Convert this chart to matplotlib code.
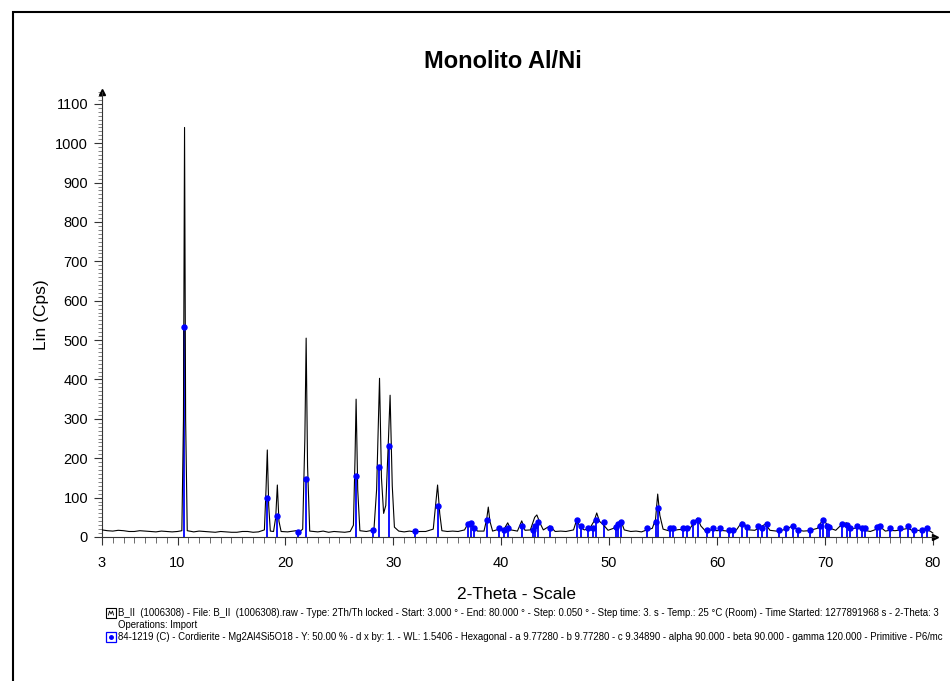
import matplotlib
matplotlib.use("Agg")
import matplotlib.pyplot as plt
from matplotlib.lines import Line2D
from matplotlib.patches import Rectangle
from matplotlib.ticker import MultipleLocator, FixedLocator

plt.rcParams['font.family'] = ['Liberation Sans', 'DejaVu Sans']

# ---- data ----
# measured pattern (2-theta, counts)
pattern_x = [3.0, 3.5, 4.0, 4.5, 5.0, 5.5, 6.0, 6.5, 7.0, 7.5, 8.0, 8.5, 9.0, 9.5, 10.0, 10.4,
             10.55, 10.65, 10.75, 10.9, 11.5, 12.0, 12.5, 13.0, 13.5, 14.0, 14.5, 15.0, 15.5,
             16.0, 16.5, 17.0, 17.5, 18.05, 18.2, 18.32, 18.45, 18.6,
             18.9, 19.1, 19.25, 19.4, 19.6, 20.2, 20.7, 21.0, 21.3, 21.6, 21.8, 21.92, 22.05,
             22.25, 22.6, 23.0, 23.5, 24.0, 24.5, 25.0, 25.5, 26.0, 26.3, 26.45, 26.55, 26.7,
             26.9, 27.5, 28.2,
             28.45, 28.72, 28.9, 29.1, 29.3, 29.55, 29.7, 29.9, 30.1, 30.5, 31.0, 31.5, 32.0,
             32.5, 33.0, 33.7, 33.95, 34.1, 34.3, 34.5, 35.0, 35.5, 36.0, 36.6, 36.9, 37.2, 37.5,
             37.8, 38.4, 38.65, 38.8, 38.95, 39.2, 39.8, 40.2, 40.6, 40.9, 41.5, 41.9,
             42.2, 42.7, 43.1, 43.3, 43.6, 43.9, 44.5, 45.0, 45.5, 46.0, 46.7, 47.0, 47.3,
             47.7, 48.2, 48.6, 48.85, 49.1, 49.5, 49.9, 50.4, 50.9, 51.1, 51.4, 52.0, 52.5,
             53.0, 53.5, 54.0, 54.3, 54.5, 54.7, 55.0, 55.5, 56.0, 56.5, 57.0, 57.5, 57.9,
             58.2, 58.5, 58.9, 59.5, 60.0, 60.3, 61.0, 61.4, 61.8, 62.3, 62.6, 63.0, 63.5, 64.0,
             64.5, 64.9, 65.5, 66.0, 66.4, 67.0, 67.5, 68.0, 68.5, 69.3, 69.6, 69.85, 70.1, 70.5,
             71.0, 71.6, 72.0, 72.4, 73.0, 73.5, 74.2, 74.8, 75.2, 75.6, 76.0, 76.5, 77.0,
             77.7, 78.2, 78.6, 79.0, 79.5, 79.8, 80.0]
pattern_y = [18, 16, 15, 17, 16, 14, 14, 16, 15, 14, 13, 15, 14, 13, 14, 16,
             300, 1040, 300, 16, 13, 15, 14, 13, 12, 14, 13, 12, 12,
             14, 14, 12, 13, 18, 120, 221, 80, 15,
             14, 50, 132, 40, 14, 13, 15, 16, 13, 20, 250, 505, 180,
             15, 14, 13, 15, 12, 14, 13, 12, 14, 30, 200, 350, 120,
             16, 14, 18,
             120, 403, 150, 60, 80, 250, 360, 130, 25, 15, 13, 15, 13,
             14, 14, 20, 90, 132, 60, 16, 14, 15, 14, 18, 33, 30, 24,
             15, 15, 45, 76, 40, 15, 20, 17, 36, 18, 15, 41,
             17, 18, 50, 56, 35, 18, 28, 14, 15, 14, 18, 44, 25,
             18, 22, 40, 61, 40, 30, 17, 22, 35, 41, 18, 14, 15,
             13, 18, 22, 45, 109, 55, 20, 16, 17, 19, 18, 22, 38,
             48, 28, 16, 18, 16, 17, 15, 17, 18, 38, 30, 18, 17, 25,
             33, 17, 15, 17, 20, 28, 18, 15, 16, 22, 35, 46, 35, 22,
             17, 33, 36, 20, 24, 18, 14, 20, 24, 15, 17, 16, 18,
             22, 15, 17, 16, 18, 14, 10]

# reference card 84-1219 Cordierite sticks (2-theta, counts)
ref_x = [10.6, 18.3, 19.25, 21.2, 21.9, 26.5, 28.1, 28.7, 29.6, 32.0, 34.1, 36.9, 37.2,
         37.5, 38.7, 39.8, 40.3, 40.6, 41.9, 42.9, 43.1, 43.4, 44.5, 47.0, 47.4, 48.0,
         48.5, 48.8, 49.5, 50.6, 50.8, 51.1, 53.5, 54.3, 54.5, 55.6, 55.9, 56.8, 57.2,
         57.8, 58.2, 59.1, 59.6, 60.3, 61.1, 61.5, 62.3, 62.8, 63.8, 64.2, 64.6, 65.7,
         66.4, 67.0, 67.5, 68.6, 69.5, 69.8, 70.2, 70.4, 71.6, 72.0, 72.3, 73.0, 73.4,
         73.7, 74.8, 75.1, 76.0, 77.0, 77.7, 78.3, 79.0, 79.5]
ref_y = [533, 99, 53, 13, 147, 155, 18, 178, 232, 15, 79, 33, 36,
         23, 43, 23, 18, 23, 28, 18, 28, 38, 23, 43, 28, 23,
         23, 43, 38, 25, 33, 38, 23, 38, 74, 23, 23, 23, 23,
         38, 43, 18, 23, 23, 18, 18, 33, 25, 28, 23, 33, 18,
         23, 28, 18, 18, 28, 43, 28, 25, 33, 30, 23, 28, 23,
         23, 25, 28, 23, 23, 28, 18, 18, 23]

x_tick_values = [3, 10, 20, 30, 40, 50, 60, 70, 80]
y_tick_values = [0, 100, 200, 300, 400, 500, 600, 700, 800, 900, 1000, 1100]

title_text = "Monolito Al/Ni"
x_label = "2-Theta - Scale"
y_label = "Lin (Cps)"
legend_line1 = ("B_II  (1006308) - File: B_II  (1006308).raw - Type: 2Th/Th locked - Start: 3.000 \u00b0 - "
                "End: 80.000 \u00b0 - Step: 0.050 \u00b0 - Step time: 3. s - Temp.: 25 \u00b0C (Room) - "
                "Time Started: 1277891968 s - 2-Theta: 3")
legend_line1b = "Operations: Import"
legend_line2 = ("84-1219 (C) - Cordierite - Mg2Al4Si5O18 - Y: 50.00 % - d x by: 1. - WL: 1.5406 - "
                "Hexagonal - a 9.77280 - b 9.77280 - c 9.34890 - alpha 90.000 - beta 90.000 - "
                "gamma 120.000 - Primitive - P6/mc")

# ---- figure ----
W, H = 950, 681
fig = plt.figure(figsize=(W / 100, H / 100), dpi=100)
fig.patch.set_facecolor('white')

# outer frame (runs off the right and bottom edges)
fig.add_artist(Rectangle((13 / W, -10 / H), (970 - 13) / W, (681 - 12 + 10) / H,
                         transform=fig.transFigure, fill=False, edgecolor='black', linewidth=1.5))

ax = fig.add_axes([102 / W, 1 - 537 / H, (935 - 102) / W, (537 - 92) / H])
ax.set_xlim(3, 80.2)
ax.set_ylim(0, 1130)

# reference sticks
blue = '#0000ff'
ax.vlines(ref_x, 0, ref_y, colors=blue, linewidth=1.3, zorder=2)
ax.plot(ref_x, ref_y, linestyle='none', marker='o', markersize=3.6, color=blue, zorder=4)

# measured pattern
ax.plot(pattern_x, pattern_y, color='black', linewidth=0.8, zorder=3)

for s in ['top', 'right']:
    ax.spines[s].set_visible(False)
for s in ['left', 'bottom']:
    ax.spines[s].set_linewidth(0.8)
    ax.spines[s].set_color('#333333')

ax.xaxis.set_major_locator(FixedLocator(x_tick_values))
ax.xaxis.set_minor_locator(MultipleLocator(1))
ax.yaxis.set_major_locator(FixedLocator(y_tick_values))
ax.yaxis.set_minor_locator(MultipleLocator(10))
ax.tick_params(axis='x', which='major', direction='out', length=6, width=0.8, pad=8,
               labelsize=10.5, colors='#333333', labelcolor='black')
ax.tick_params(axis='x', which='minor', direction='out', length=4, width=0.6, colors='#555555')
ax.tick_params(axis='y', which='major', direction='out', length=6, width=0.8, pad=4,
               labelsize=10.5, colors='#333333', labelcolor='black')
ax.tick_params(axis='y', which='minor', direction='out', length=3, width=0.5, colors='#555555')

# axis arrows
ax.plot([0], [1.0], marker='^', markersize=4, color='black', transform=ax.transAxes, clip_on=False)
ax.plot([1.0], [0], marker='>', markersize=4, color='black', transform=ax.transAxes, clip_on=False)

ax.set_ylabel(y_label, fontsize=12.5)
ax.yaxis.set_label_coords(-0.064, 0.5)
ax.set_xlabel(x_label, fontsize=12.5)
ax.xaxis.set_label_coords(0.497, -0.112)

fig.text(503 / W, 1 - 62 / H, title_text, ha='center', va='center', fontsize=17,
         fontweight='bold')

# legend block
fs_leg = 6.95
fig.text(118 / W, 1 - 613 / H, legend_line1, fontsize=fs_leg, va='center', ha='left')
fig.text(118 / W, 1 - 625 / H, legend_line1b, fontsize=fs_leg, va='center', ha='left')
fig.text(118 / W, 1 - 637 / H, legend_line2, fontsize=fs_leg, va='center', ha='left')
# icons
fig.add_artist(Line2D([111 / W], [1 - 613 / H], marker='s', markersize=7, markerfacecolor='white',
                      markeredgecolor='black', markeredgewidth=0.8, transform=fig.transFigure))
fig.add_artist(Line2D([108.5 / W, 109.5 / W, 111 / W, 112.5 / W, 113.5 / W],
                      [1 - 615 / H, 1 - 611 / H, 1 - 614 / H, 1 - 611 / H, 1 - 615 / H],
                      color='black', linewidth=0.6, transform=fig.transFigure))
fig.add_artist(Line2D([111 / W], [1 - 637 / H], marker='s', markersize=7, markerfacecolor='white',
                      markeredgecolor=blue, markeredgewidth=0.9, transform=fig.transFigure))
fig.add_artist(Line2D([111 / W], [1 - 637 / H], marker='o', markersize=2.5, color=blue,
                      transform=fig.transFigure))

fig.savefig('out.png', dpi=100)
